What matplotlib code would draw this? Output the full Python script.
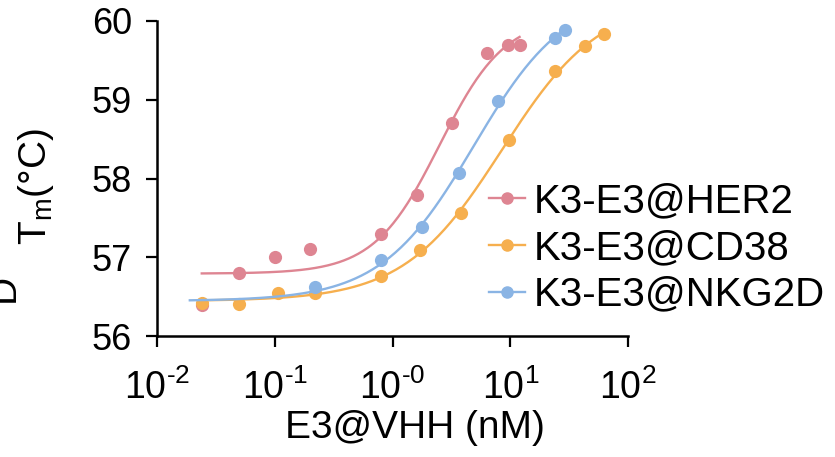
import numpy as np
import matplotlib
matplotlib.use("Agg")
import matplotlib.pyplot as plt

plt.rcParams['font.family'] = ['Liberation Sans', 'DejaVu Sans']
plt.rcParams['mathtext.fontset'] = 'custom'
plt.rcParams['mathtext.rm'] = 'Liberation Sans'
plt.rcParams['mathtext.it'] = 'Liberation Sans:italic'

# data
her2_x = [0.024, 0.05, 0.1, 0.2, 0.8, 1.6, 3.2, 6.4, 9.6, 12.0]
her2_y = [56.39, 56.80, 57.00, 57.10, 57.29, 57.79, 58.70, 59.60, 59.70, 59.70]
cd38_x = [0.024, 0.05, 0.106, 0.22, 0.8, 1.7, 3.8, 9.8, 24.0, 43.0, 63.0]
cd38_y = [56.42, 56.41, 56.54, 56.54, 56.76, 57.09, 57.56, 58.49, 59.37, 59.68, 59.83]
nkg2d_x = [0.22, 0.8, 1.78, 3.7, 7.9, 24.0, 29.0]
nkg2d_y = [56.62, 56.96, 57.39, 58.07, 58.98, 59.79, 59.88]
curve_start = [0.024, 0.024, 0.019]

names = ["K3-E3@HER2", "K3-E3@CD38", "K3-E3@NKG2D"]
colors = ["#DE8592", "#F6AF4E", "#8AB4E4"]
xticks = [0.01, 0.1, 1, 10, 100]
xticklabels = ["$\\mathregular{10^{\u20102}}$", "$\\mathregular{10^{\u20101}}$", "$\\mathregular{10^{\u20100}}$",
               r"$\mathregular{10^{1}}$", r"$\mathregular{10^{2}}$"]


def fit4pl(x, y, bottom=None):
    # grid over ec50/hill, linear solve for bottom/top
    lx = np.log10(x)
    y = np.asarray(y)
    best = None
    for c in np.linspace(-1, 2, 301):
        for h in np.linspace(0.3, 3, 136):
            s = 1 / (1 + 10 ** ((c - lx) * h))
            if bottom is None:
                A = np.column_stack([1 - s, s])
                coef = np.linalg.lstsq(A, y, rcond=None)[0]
                pred = A @ coef
            else:
                span = np.sum(s * (y - bottom)) / np.sum(s * s)
                coef = (bottom, bottom + span)
                pred = bottom + span * s
            sse = np.sum((pred - y) ** 2)
            if best is None or sse < best[0]:
                best = (sse, c, h, coef)
    return best[1:]


fig = plt.figure(figsize=(8.35, 4.57), dpi=100)
ax = fig.add_axes([157 / 835, 121 / 457, 471 / 835, 315 / 457])

# CD38 and NKG2D share the bottom plateau
fits = [fit4pl(her2_x, her2_y), fit4pl(cd38_x, cd38_y)]
fits.append(fit4pl(nkg2d_x, nkg2d_y, bottom=fits[1][2][0]))

series = [(her2_x, her2_y), (cd38_x, cd38_y), (nkg2d_x, nkg2d_y)]
for (xs, ys), (c, h, (bot, top)), name, col, x0 in zip(series, fits, names, colors, curve_start):
    xx = np.logspace(np.log10(x0), np.log10(max(xs)), 200)
    yy = bot + (top - bot) / (1 + 10 ** ((c - np.log10(xx)) * h))
    ax.plot(xs, ys, 'o', color=col, ms=9.5, mec='none')
    ax.plot(xx, yy, '-', color=col, lw=1.7)
    ax.plot([], [], '-o', color=col, lw=1.7, ms=8, label=name)

ax.set_xscale('log')
ax.set_xlim(0.01, 100)
ax.set_ylim(56, 60)
ax.set_xticks(xticks)
ax.set_xticklabels(xticklabels)
ax.minorticks_off()
ax.set_yticks([56, 57, 58, 59, 60])
ax.spines['top'].set_visible(False)
ax.spines['right'].set_visible(False)
for s in ['left', 'bottom']:
    ax.spines[s].set_linewidth(1.8)
ax.tick_params(axis='both', length=8, width=1.6, direction='out')
ax.tick_params(axis='x', pad=16, labelsize=27)
ax.tick_params(axis='y', pad=10, labelsize=26)

ax.set_xlabel("E3@VHH (nM)", fontsize=28)
ax.xaxis.set_label_coords(0.548, -0.235)
ax.set_ylabel(r"T$_\mathregular{m}$(°C)", fontsize=28)
ax.yaxis.set_label_coords(-0.214, 0.473)
fig.text(22 / 835, 1 - 288 / 457, "D", rotation=90, ha='right', va='center', fontsize=28)

ax.legend(loc='upper left', bbox_to_anchor=(489 / 835, 1 - 182 / 457), bbox_transform=fig.transFigure,
          frameon=False, fontsize=29, handlelength=0.9, handletextpad=0.2, labelspacing=0.22,
          borderpad=0, borderaxespad=0)

fig.savefig("out.png", dpi=100)
